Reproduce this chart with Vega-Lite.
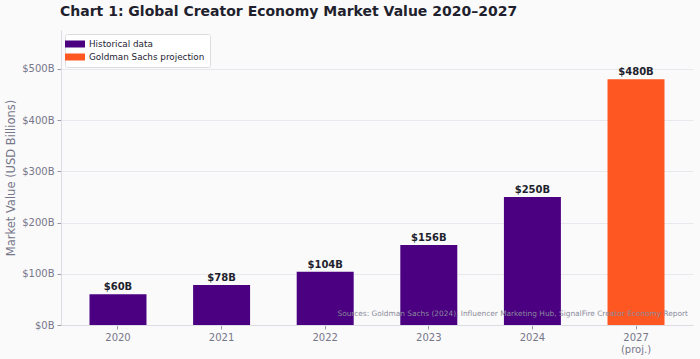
{
  "$schema": "https://vega.github.io/schema/vega-lite/v6.json",
  "width": 632,
  "height": 295,
  "autosize": {"type": "none"},
  "padding": {"left": 61, "top": 30, "right": 7, "bottom": 34},
  "background": "#fafafa",
  "title": {
    "text": "Chart 1: Global Creator Economy Market Value 2020–2027",
    "anchor": "start",
    "frame": "group",
    "font": "DejaVu Sans",
    "fontSize": 14,
    "fontWeight": "bold",
    "color": "#1f1f2e",
    "offset": 11,
    "dx": -1
  },
  "config": {
    "font": "DejaVu Sans",
    "view": {"stroke": null},
    "axis": {"domainColor": "#dcdce4", "tickColor": "#9a9aa8", "labelColor": "#77778a", "titleColor": "#77778a"}
  },
  "data": {
    "values": [
      {"year": "2020", "value": 60, "label": "$60B", "series": "Historical data"},
      {"year": "2021", "value": 78, "label": "$78B", "series": "Historical data"},
      {"year": "2022", "value": 104, "label": "$104B", "series": "Historical data"},
      {"year": "2023", "value": 156, "label": "$156B", "series": "Historical data"},
      {"year": "2024", "value": 250, "label": "$250B", "series": "Historical data"},
      {"year": "2027 (proj.)", "value": 480, "label": "$480B", "series": "Goldman Sachs projection"}
    ]
  },
  "layer": [
    {
      "mark": {"type": "bar"},
      "encoding": {
        "x": {
          "field": "year", "type": "nominal", "sort": null, "title": null,
          "scale": {"paddingInner": 0.45, "paddingOuter": 0.275},
          "axis": {"labelAngle": 0, "labelFontSize": 10, "labelExpr": "split(datum.label, ' ')", "tickSize": 4, "labelPadding": 3}
        },
        "y": {
          "field": "value", "type": "quantitative",
          "title": "Market Value (USD Billions)",
          "scale": {"domain": [0, 576], "nice": false},
          "axis": {
            "values": [0, 100, 200, 300, 400, 500],
            "labelExpr": "'$' + datum.value + 'B'",
            "labelFontSize": 10,
            "titleFontSize": 11.5,
            "titleFontWeight": "normal",
            "titlePadding": 5,
            "gridColor": "#e8e8ee",
            "tickSize": 4,
            "labelPadding": 3
          }
        },
        "color": {
          "field": "series", "type": "nominal",
          "scale": {"domain": ["Historical data", "Goldman Sachs projection"], "range": ["#4b0082", "#ff5722"]},
          "legend": {
            "title": null,
            "orient": "none",
            "legendX": 4,
            "legendY": 4,
            "symbolType": "M-2,-0.7H2V0.7H-2Z",
            "symbolSize": 100,
            "symbolStrokeWidth": 0,
            "labelFontSize": 8.8,
            "labelColor": "#222233",
            "labelOffset": 9,
            "rowPadding": 3,
            "padding": 5,
            "fillColor": "#ffffff",
            "strokeColor": "#dddddd",
            "cornerRadius": 2
          }
        }
      }
    },
    {
      "mark": {"type": "text", "dy": -7, "fontWeight": "bold", "fontSize": 10, "color": "#1f1f2e"},
      "encoding": {
        "x": {"field": "year", "type": "nominal", "sort": null},
        "y": {"field": "value", "type": "quantitative"},
        "text": {"field": "label", "type": "nominal"}
      }
    },
    {
      "data": {"values": [{"note": "Sources: Goldman Sachs (2024), Influencer Marketing Hub, SignalFire Creator Economy Report"}]},
      "mark": {"type": "text", "align": "right", "baseline": "middle", "dx": 52, "fontSize": 7.4, "color": "#8a8a9a"},
      "encoding": {
        "x": {"datum": "2027 (proj.)", "type": "nominal"},
        "y": {"datum": 22, "type": "quantitative"},
        "text": {"field": "note", "type": "nominal"}
      }
    }
  ]
}
